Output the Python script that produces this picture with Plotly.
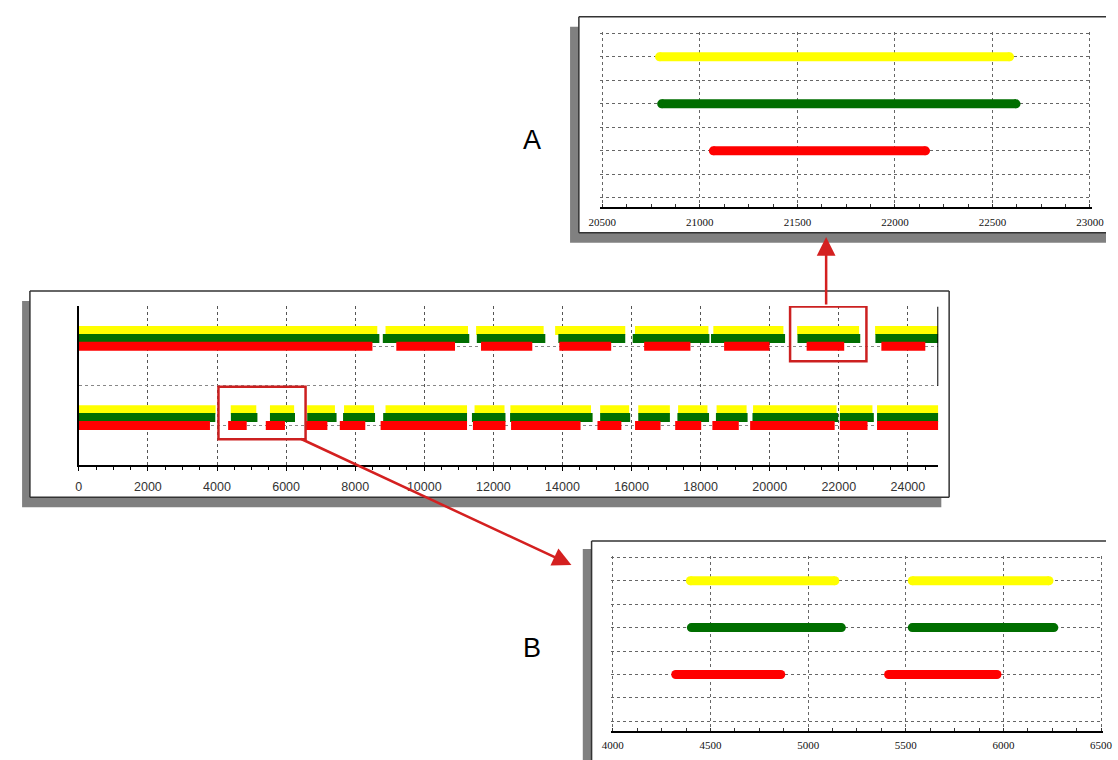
import plotly.graph_objects as go

W, H = 1118, 760

# ---------------- data (intervals) ----------------
# upper track group (levels 1.5 / 1.6 / 1.7)
top_yellow = [(0, 8640), (8878, 11266), (11500, 13456), (13788, 15818), (16100, 18226),
              (18368, 20397), (20793, 22588), (23050, 24880)]
top_green = [(0, 8700), (8800, 11303), (11521, 13504), (13881, 15818), (16034, 18255),
             (18300, 20445), (20804, 22621), (23060, 24880)]
top_red = [(0, 8499), (9190, 10890), (11643, 13127), (13909, 15411), (16365, 17705),
           (18680, 19992), (21069, 22157), (23232, 24504)]

# lower track group (levels 0.5 / 0.6 / 0.7)
bottom_yellow = [(0, 3960), (4397, 5137), (5533, 6233), (6611, 7414), (7677, 8547),
                 (8878, 11238), (11456, 12323), (12493, 14827), (15091, 15932),
                 (16195, 17110), (17348, 18198), (18462, 19331), (19518, 21936),
                 (22030, 22974), (23107, 24880)]
bottom_green = [(0, 3950), (4402, 5170), (5533, 6258), (6611, 7461), (7649, 8575),
                (8810, 11238), (11380, 12351), (12484, 14873), (15091, 15960),
                (16195, 17111), (17328, 18244), (18443, 19360), (19501, 21983),
                (22030, 23014), (23107, 24880)]
bottom_red = [(0, 3796), (4322, 4860), (5412, 5967), (6564, 7195), (7555, 8292),
              (8736, 11238), (11408, 12351), (12513, 14524), (15014, 15705),
              (16102, 16839), (17264, 18017), (18340, 19105), (19433, 21881),
              (22030, 22832), (23107, 24880)]

top_levels = {"yellow": 1.7, "green": 1.6, "red": 1.5}
bottom_levels = {"yellow": 0.7, "green": 0.6, "red": 0.5}

main_ticks = [0, 2000, 4000, 6000, 8000, 10000, 12000, 14000, 16000, 18000, 20000, 22000, 24000]
panel_a_ticks = [20500, 21000, 21500, 22000, 22500, 23000]
panel_b_ticks = [4000, 4500, 5000, 5500, 6000, 6500]
main_y_grid = [0.5, 1.0, 1.5, 2.0]
panel_a_y_grid = [1.40, 1.45, 1.50, 1.55, 1.60, 1.65, 1.70, 1.75]
panel_b_y_grid = [0.40, 0.45, 0.50, 0.55, 0.60, 0.65, 0.70, 0.75]

COLORS = {"yellow": "#FFFF00", "green": "#006E00", "red": "#FF0000"}

MAIN_RANGE = [0, 24880]
A_RANGE = [20490, 23010]
B_RANGE = [3990, 6510]

# ---------------- helpers ----------------
def px_x(x):
    return min(max(x, 0), W) / W

def px_y(y):
    return 1 - min(max(y, 0), H) / H

def in_view(segs, rng):
    return [s for s in segs if s[1] > rng[0] and s[0] < rng[1]]

def seg_line(segs, level):
    xs, ys = [], []
    for a, b in segs:
        xs += [a, b, None]
        ys += [level, level, None]
    return xs, ys

def seg_caps(segs, level):
    xs = [v for s in segs for v in s]
    return xs, [level] * len(xs)

fig = go.Figure()

groups = [
    ("yellow", top_yellow, bottom_yellow),
    ("green", top_green, bottom_green),
    ("red", top_red, bottom_red),
]

# main chart
for name, tsegs, bsegs in groups:
    for segs, lv in ((tsegs, top_levels[name]), (bsegs, bottom_levels[name])):
        x, y = seg_line(segs, lv)
        fig.add_trace(go.Scatter(x=x, y=y, mode="lines", xaxis="x", yaxis="y",
                                 line=dict(color=COLORS[name], width=9),
                                 hoverinfo="skip", connectgaps=False))

# zoom panels (A = upper group, B = lower group), only the intervals inside each window
for name, tsegs, bsegs in groups:
    for segs, lv, xa, ya, rng in ((tsegs, top_levels[name], "x2", "y2", A_RANGE),
                                  (bsegs, bottom_levels[name], "x3", "y3", B_RANGE)):
        vis = in_view(segs, rng)
        x, y = seg_line(vis, lv)
        fig.add_trace(go.Scatter(x=x, y=y, mode="lines", xaxis=xa, yaxis=ya,
                                 line=dict(color=COLORS[name], width=9),
                                 hoverinfo="skip", connectgaps=False))
        cx, cy = seg_caps(vis, lv)
        fig.add_trace(go.Scatter(x=cx, y=cy, mode="markers", xaxis=xa, yaxis=ya,
                                 marker=dict(color=COLORS[name], size=9, line=dict(width=0)),
                                 hoverinfo="skip"))

grid_main = dict(showgrid=True, gridcolor="#555555", griddash="3px,3px", gridwidth=1)
grid_panel = dict(showgrid=True, gridcolor="#666666", griddash="3px,3px", gridwidth=1)

fig.update_layout(
    width=W, height=H, autosize=False,
    margin=dict(l=0, r=0, t=0, b=0),
    paper_bgcolor="white", plot_bgcolor="rgba(0,0,0,0)",
    showlegend=False,
    xaxis=dict(domain=[px_x(68.3), px_x(946.6)], range=MAIN_RANGE, anchor="y",
               tickmode="array", tickvals=main_ticks, ticktext=[str(v) for v in main_ticks],
               ticks="outside", ticklen=4, tickcolor="black", ticklabelstandoff=5,
               minor=dict(dtick=500, tick0=0, ticks="outside", ticklen=3, tickcolor="black", showgrid=False),
               showline=True, linecolor="black", linewidth=2, zeroline=False,
               tickfont=dict(family="Liberation Sans, Arial", size=12.5, color="#333333"),
               **grid_main),
    yaxis=dict(domain=[px_y(465), px_y(306.0)], range=[0, 2.01], anchor="x",
               tickmode="array", tickvals=main_y_grid, showticklabels=False,
               ticks="", showline=True, linecolor="black", linewidth=2, zeroline=False,
               gridcolor="#888888", griddash="3px,3px", gridwidth=1, showgrid=True),
    xaxis2=dict(domain=[px_x(601.3), px_x(1103.6)], range=A_RANGE, anchor="y2",
                tickmode="array", tickvals=panel_a_ticks, ticktext=[str(v) for v in panel_a_ticks],
                ticks="", ticklabelstandoff=3,
                minor=dict(dtick=125, tick0=0, ticks="inside", ticklen=3, tickcolor="#333333", showgrid=False),
                showline=True, linecolor="black", linewidth=2, zeroline=False,
                tickfont=dict(family="Liberation Serif, serif", size=11, color="#111111"),
                **grid_panel),
    yaxis2=dict(domain=[px_y(207.3), px_y(31.9)], range=[1.38, 1.753], anchor="x2",
                tickmode="array", tickvals=panel_a_y_grid, showticklabels=False, ticks="",
                showline=False, zeroline=False, **grid_panel),
    xaxis3=dict(domain=[px_x(612), px_x(1115)], range=B_RANGE, anchor="y3",
                tickmode="array", tickvals=panel_b_ticks, ticktext=[str(v) for v in panel_b_ticks],
                ticks="", ticklabelstandoff=3,
                minor=dict(dtick=125, tick0=0, ticks="inside", ticklen=3, tickcolor="#333333", showgrid=False),
                showline=True, linecolor="black", linewidth=2, zeroline=False,
                tickfont=dict(family="Liberation Serif, serif", size=11, color="#111111"),
                **grid_panel),
    yaxis3=dict(domain=[px_y(730.7), px_y(555.9)], range=[0.38, 0.753], anchor="x3",
                tickmode="array", tickvals=panel_b_y_grid, showticklabels=False, ticks="",
                showline=False, zeroline=False, **grid_panel),
)

shapes = []
BORDER = dict(color="#333333", width=1.5)

def rect(x0, y0, x1, y1, fill):
    shapes.append(dict(type="rect", xref="paper", yref="paper", layer="below",
                       x0=px_x(x0), x1=px_x(x1), y0=px_y(y1), y1=px_y(y0),
                       fillcolor=fill, line=dict(width=0)))

def edge(x0, y0, x1, y1):
    shapes.append(dict(type="line", xref="paper", yref="paper", layer="below",
                       x0=px_x(x0), x1=px_x(x1), y0=px_y(y0), y1=px_y(y1), line=BORDER))

# main frame with drop shadow
rect(10.3, 301, 949.7, 507.3, "#808080")
rect(18.3, 291, 957.7, 497.3, "white")
edge(18.3, 291, 957.7, 291)
edge(18.3, 497.3, 957.7, 497.3)
edge(18.3, 291, 18.3, 497.3)
edge(957.7, 291, 957.7, 497.3)
# panel A frame (runs off the right edge)
rect(570.3, 26.7, W, 242.7, "#808080")
rect(579.3, 16.7, W, 232.7, "white")
edge(579.3, 16.7, W, 16.7)
edge(579.3, 232.7, W, 232.7)
edge(579.3, 16.7, 579.3, 232.7)
# panel B frame (runs off the right and bottom edges)
rect(583.3, 549, W, H, "#808080")
rect(592.3, 541, W, H, "white")
edge(592.3, 541, W, 541)
edge(592.3, 541, 592.3, H)

# right edge stub of the main plot
shapes.append(dict(type="line", xref="x", yref="y", x0=24880, x1=24880, y0=1.0, y1=2.0,
                   line=dict(color="black", width=2), layer="above"))
# red highlight boxes
shapes.append(dict(type="rect", xref="x", yref="y", x0=20590, x1=22800, y0=1.31, y1=2.005,
                   line=dict(color="#CC2020", width=2.5), layer="above"))
shapes.append(dict(type="rect", xref="x", yref="y", x0=4042, x1=6564, y0=0.325, y1=0.99,
                   line=dict(color="#CC2020", width=2.5), layer="above"))
fig.update_layout(shapes=shapes)

annotations = [
    dict(x=px_x(832), y=px_y(237), xref="paper", yref="paper", text="", showarrow=True,
         ax=0, ay=69, arrowhead=2, arrowsize=1.5, arrowwidth=2.5, arrowcolor="#D42020"),
    dict(x=px_x(571.7), y=px_y(565), xref="paper", yref="paper", text="", showarrow=True,
         ax=-271.7, ay=-126.7, arrowhead=2, arrowsize=1.5, arrowwidth=2.5, arrowcolor="#D42020"),
    dict(x=px_x(531), y=px_y(140), xref="paper", yref="paper", text="A", showarrow=False,
         font=dict(family="Liberation Sans, Arial", size=27, color="black"),
         xanchor="center", yanchor="middle"),
    dict(x=px_x(531.7), y=px_y(647.7), xref="paper", yref="paper", text="B", showarrow=False,
         font=dict(family="Liberation Sans, Arial", size=27, color="black"),
         xanchor="center", yanchor="middle"),
]
fig.update_layout(annotations=annotations)

page_fix = ("document.documentElement.style.margin='0';document.body.style.margin='0';"
            "document.body.style.padding='0';document.body.style.overflow='hidden';"
            "document.documentElement.style.overflow='hidden';")

fig.write_html("out.html",
               config={"responsive": False, "displayModeBar": False, "staticPlot": True},
               post_script=page_fix)
